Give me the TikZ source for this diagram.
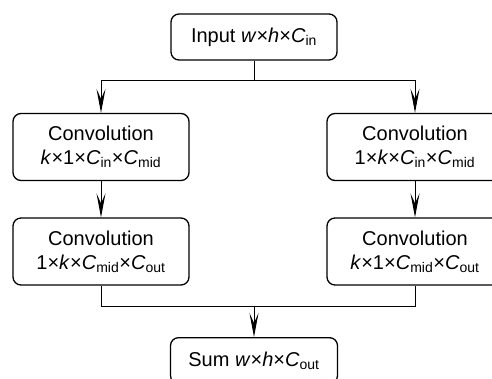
\documentclass[tikz,border=0pt]{standalone}
\usepackage{fontspec}
\setmainfont{Liberation Sans}
\usetikzlibrary{arrows.meta}
\newcommand{\chan}[1]{\textit{C}\textsubscript{#1}}

\begin{document}
\begin{tikzpicture}[x=1bp,y=1bp,font=\fontsize{20bp}{24bp}\selectfont,>={Stealth[length=24bp,width=9bp,inset=10bp]},line width=1bp]
\tikzstyle{blk}=[draw,rounded corners=8bp,align=center,inner sep=0pt,line width=1.3bp,minimum width=176bp,minimum height=67bp]
\useasboundingbox (0,0) rectangle (492,-378);
\node[blk,minimum width=166bp,minimum height=46bp] (in) at (254,-37) {Input \textit{w}×\textit{h}×\chan{in}};
\node[blk] (cl1) at (101,-147) {Convolution\\\textit{k}×1×\chan{in}×\chan{mid}};
\node[blk] (cr1) at (415,-147) {Convolution\\1×\textit{k}×\chan{in}×\chan{mid}};
\node[blk] (cl2) at (101,-251.5) {Convolution\\1×\textit{k}×\chan{mid}×\chan{out}};
\node[blk] (cr2) at (415,-251.5) {Convolution\\\textit{k}×1×\chan{mid}×\chan{out}};
\node[blk,minimum width=167bp,minimum height=46bp,anchor=north] (sum) at (254,-337) {Sum \textit{w}×\textit{h}×\chan{out}};
% split into the two branches
\draw (in.south) -- ++(0,-20) coordinate (split);
\draw[->] (split) -| (cl1.north);
\draw[->] (split) -| (cr1.north);
\draw[->] (cl1) -- (cl2);
\draw[->] (cr1) -- (cr2);
% merge
\coordinate (merge) at (254,-306);
\draw (cl2.south) |- (merge) -| (cr2.south);
\draw[->] (merge) -- (sum);
\end{tikzpicture}
\end{document}
